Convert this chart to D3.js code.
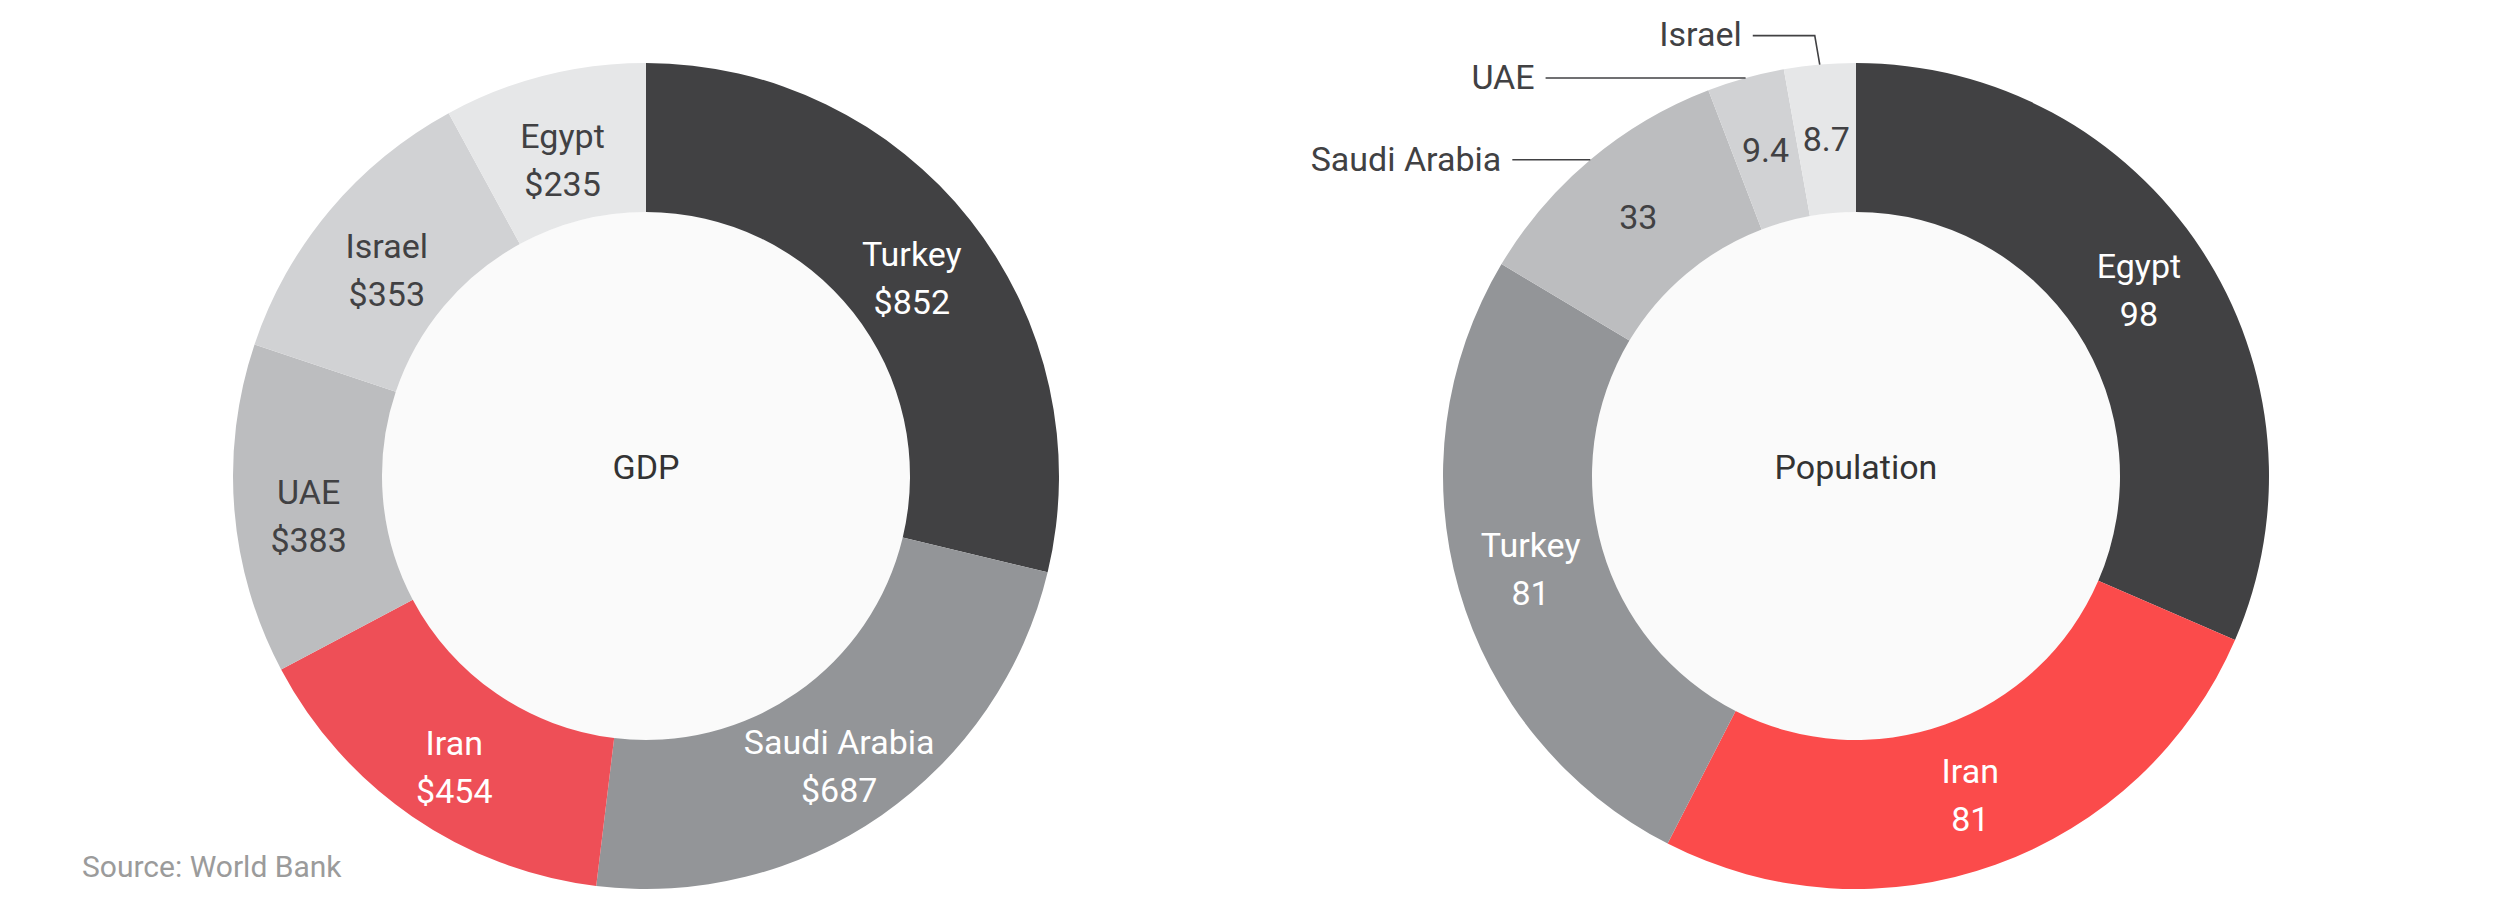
<!DOCTYPE html>
<html>
<head>
<meta charset="utf-8">
<script src="https://cdn.jsdelivr.net/npm/d3@7"></script>
<style>
    body { margin: 0; background: #fff; }
    text { font-family: Roboto, "Noto Sans", sans-serif; }
</style>
</head>
<body>
<div id="chart"></div>
<script>
// GDP, billions of US$
const gdpCountries = ['Turkey', 'Saudi Arabia', 'Iran', 'UAE', 'Israel', 'Egypt'];
const gdpValues = [852, 687, 454, 383, 353, 235];
const gdpLabels = ['$852', '$687', '$454', '$383', '$353', '$235'];

// Population, millions
const popCountries = ['Egypt', 'Iran', 'Turkey', 'Saudi Arabia', 'UAE', 'Israel'];
const popValues = [98, 81, 81, 33, 9.4, 8.7];
const popLabels = ['98', '81', '81', '33', '9.4', '8.7'];

const greys = ['#414143', '#939598', '#bcbdbf', '#d1d2d4', '#e6e7e8'];
const lightText = ['#414143', '#939598'];

const width = 2500, height = 901;
const outer = 413, inner = 264;
const fontSize = 34;

const svg = d3.select('#chart').append('svg')
    .attr('width', width)
    .attr('height', height);

function donut(cx, cy, title, countries, values, labels, red, opts) {
    const outside = opts.outside || {};
    const shift = opts.shift || 0;

    // greys by rank, Iran always red
    let grey = 0;
    const colors = countries.map(c => c === 'Iran' ? red : greys[grey++]);
    const data = countries.map((c, i) => ({ name: c, value: values[i], label: labels[i], color: colors[i] }));

    const pie = d3.pie().sort(null).value(d => d.value);
    const arc = d3.arc().innerRadius(inner).outerRadius(outer);
    const arcs = pie(data);

    const g = svg.append('g').attr('transform', 'translate(' + cx + ',' + cy + ')');

    g.append('circle').attr('r', inner).attr('fill', '#fafafa');

    g.selectAll('path.slice').data(arcs)
        .enter()
        .append('path')
        .attr('class', 'slice')
        .attr('d', arc)
        .attr('fill', d => d.data.color);

    const textColor = d => (d.data.color === red || lightText.includes(d.data.color)) ? '#fff' : '#414143';

    // two line labels inside the ring
    const inside = arcs.filter(d => !outside[d.data.name]);
    const lab = g.selectAll('text.slice-label').data(inside)
        .enter()
        .append('text')
        .attr('class', 'slice-label')
        .attr('text-anchor', 'middle')
        .attr('font-size', fontSize)
        .attr('fill', textColor)
        .attr('transform', d => {
            const c = arc.centroid(d);
            return 'translate(' + c[0] + ',' + (c[1] + shift) + ')';
        });
    lab.append('tspan').attr('x', 0).attr('y', -12).text(d => d.data.name);
    lab.append('tspan').attr('x', 0).attr('y', 36).text(d => d.data.label);

    // small slices: value inside, name outside with a leader
    const small = arcs.filter(d => outside[d.data.name]);
    g.selectAll('text.value-label').data(small)
        .enter()
        .append('text')
        .attr('class', 'value-label')
        .attr('text-anchor', 'middle')
        .attr('font-size', fontSize)
        .attr('fill', textColor)
        .attr('x', d => arc.centroid(d)[0])
        .attr('y', d => arc.centroid(d)[1])
        .attr('dy', '0.35em')
        .text(d => d.data.label);

    small.forEach(d => {
        const o = outside[d.data.name];
        const a = (d.startAngle + d.endAngle) / 2;
        const p0 = [outer * Math.sin(a), -outer * Math.cos(a)];
        const p1 = o.rise ? [p0[0] - 5, p0[1] - o.rise] : p0;
        const p2 = [p1[0] - o.run, p1[1]];
        g.append('path')
            .attr('d', d3.line()([p0, p1, p2]))
            .attr('fill', 'none')
            .attr('stroke', '#414143')
            .attr('stroke-width', 1.6);
        g.append('text')
            .attr('text-anchor', 'end')
            .attr('font-size', fontSize)
            .attr('fill', '#414143')
            .attr('x', p2[0] - 11)
            .attr('y', p2[1])
            .attr('dy', '0.32em')
            .text(d.data.name);
    });

    g.append('text')
        .attr('text-anchor', 'middle')
        .attr('font-size', fontSize)
        .attr('fill', '#333')
        .attr('y', 0)
        .attr('dy', '0.1em')
        .text(title);
}

donut(646, 476, 'GDP', gdpCountries, gdpValues, gdpLabels, '#ee4f57', { shift: 12 });
donut(1856, 476, 'Population', popCountries, popValues, popLabels, '#fb4b4b', {
    shift: 0,
    outside: {
        'Saudi Arabia': { rise: 0, run: 78 },
        'UAE': { rise: 0, run: 200 },
        'Israel': { rise: 29, run: 62 }
    }
});

svg.append('text')
    .attr('x', 82)
    .attr('y', 877)
    .attr('font-size', 30)
    .attr('fill', '#9b9b9b')
    .text('Source: World Bank');
</script>
</body>
</html>
